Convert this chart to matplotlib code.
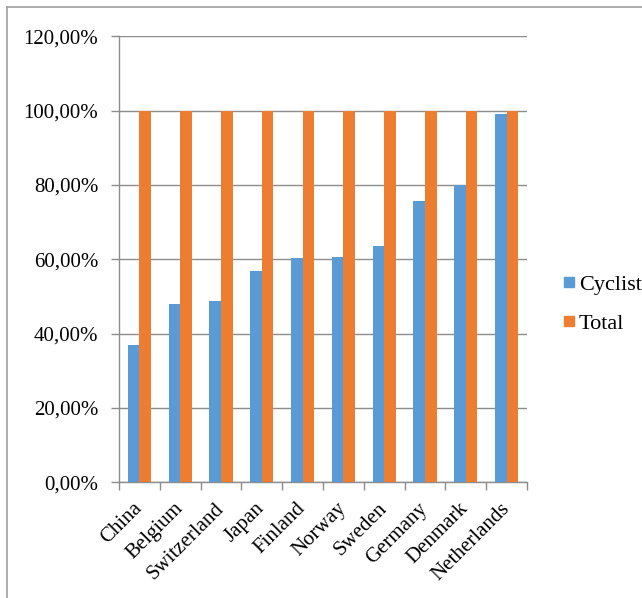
import matplotlib
matplotlib.use("Agg")
import matplotlib.pyplot as plt
from matplotlib.lines import Line2D
from matplotlib.ticker import FuncFormatter, MultipleLocator
import numpy as np

countries = ["China", "Belgium", "Switzerland", "Japan", "Finland",
             "Norway", "Sweden", "Germany", "Denmark", "Netherlands"]
cyclist = [0.370, 0.479, 0.487, 0.569, 0.603, 0.606, 0.637, 0.757, 0.800, 0.991]
total = [1.0] * len(countries)
series_names = ["Cyclist", "Total"]

BLUE = "#5B9BD5"
ORANGE = "#ED7D31"
AXIS = "#8C8C8C"
GRID = "#8C8C8C"

plt.rcParams["font.family"] = ["Liberation Serif", "DejaVu Serif"]
FS = 15

W, H = 642, 598
fig = plt.figure(figsize=(W / 100, H / 100), dpi=100)

# plot area in pixel coordinates
left, right, top, bottom = 119, 527, 36.4, 482.3
ax = fig.add_axes([left / W, 1 - bottom / H, (right - left) / W, (bottom - top) / H])

x = np.arange(len(countries))
bw = 0.286
ax.bar(x - bw / 2, cyclist, bw, color=BLUE, label=series_names[0], zorder=3)
ax.bar(x + bw / 2, total, bw, color=ORANGE, label=series_names[1], zorder=3)

ax.set_xlim(-0.5, len(countries) - 0.5)
ax.set_ylim(0, 1.2)
ax.yaxis.set_major_locator(MultipleLocator(0.2))
ax.yaxis.set_major_formatter(FuncFormatter(lambda v, p: f"{v * 100:.2f}%".replace(".", ",")))
ax.yaxis.grid(True, color=GRID, linewidth=1.0, zorder=0)

ax.set_xticks(np.arange(len(countries) + 1) - 0.5, minor=False)
ax.set_xticklabels([])
ax.set_xticks(x, minor=True)
ax.set_xticklabels(countries, minor=True, rotation=45, ha="right", va="center",
                   rotation_mode="anchor", fontsize=FS)
ax.tick_params(axis="x", which="minor", length=0, pad=17)
ax.tick_params(axis="x", which="major", length=6, width=1, color=AXIS, direction="out")
ax.tick_params(axis="y", length=6, width=1, color=AXIS, labelsize=FS, pad=9)

for s in ["top", "right"]:
    ax.spines[s].set_visible(False)
for s in ["left", "bottom"]:
    ax.spines[s].set_color(AXIS)
    ax.spines[s].set_linewidth(1.0)

handles = [Line2D([], [], marker="s", linestyle="none", markersize=7.8,
                  markerfacecolor=c, markeredgecolor=c) for c in (BLUE, ORANGE)]
fig.legend(handles, series_names, loc="upper left",
           bbox_to_anchor=(562 / W, 1 - 274 / H), frameon=False, fontsize=16,
           handlelength=0.6, handletextpad=0.15, labelspacing=0.85,
           borderpad=0, borderaxespad=0)

# outer frame (top and left edges)
fig.add_artist(Line2D([6.5 / W, 1], [1 - 6.5 / H, 1 - 6.5 / H], color="#A0A0A0",
                      linewidth=1.2, transform=fig.transFigure))
fig.add_artist(Line2D([6.5 / W, 6.5 / W], [0, 1 - 6.5 / H], color="#A0A0A0",
                      linewidth=1.2, transform=fig.transFigure))

fig.savefig("out.png", dpi=100, facecolor="white")
